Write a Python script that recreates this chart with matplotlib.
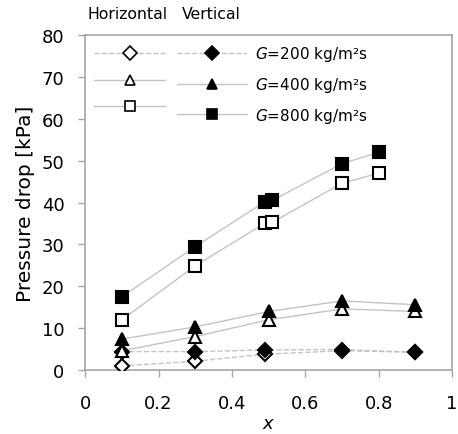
import numpy as np
import matplotlib
matplotlib.use("Agg")
import matplotlib.pyplot as plt
from matplotlib.lines import Line2D

# horizontal tube (open markers)
x_h200 = [0.1, 0.3, 0.49, 0.7, 0.9]
y_h200 = [1.0, 2.1, 3.8, 4.6, 4.3]
x_h400 = [0.1, 0.3, 0.5, 0.7, 0.9]
y_h400 = [4.6, 8.0, 12.0, 14.6, 14.0]
x_h800 = [0.1, 0.3, 0.49, 0.51, 0.7, 0.8]
y_h800 = [12.0, 24.9, 35.1, 35.3, 44.6, 47.0]

# vertical tube (filled markers)
x_v200 = [0.1, 0.3, 0.49, 0.7, 0.9]
y_v200 = [4.4, 4.4, 4.8, 4.9, 4.2]
x_v400 = [0.1, 0.3, 0.5, 0.7, 0.9]
y_v400 = [7.4, 10.3, 14.0, 16.5, 15.6]
x_v800 = [0.1, 0.3, 0.49, 0.51, 0.7, 0.8]
y_v800 = [17.5, 29.5, 40.2, 40.5, 49.3, 52.0]

labels = ["$G$=200 kg/m²s", "$G$=400 kg/m²s", "$G$=800 kg/m²s"]

line_c = "#c4c4c4"
frame_c = "#a6a6a6"

fig = plt.figure(figsize=(4.58, 4.35), dpi=100)
ax = fig.add_axes([0.186, 0.147, 0.801, 0.770])

series = [
    (x_h200, y_h200, "D", "white", "--", 7.5),
    (x_v200, y_v200, "D", "black", "--", 7.5),
    (x_h400, y_h400, "^", "white", "-", 9),
    (x_v400, y_v400, "^", "black", "-", 9),
    (x_h800, y_h800, "s", "white", "-", 9),
    (x_v800, y_v800, "s", "black", "-", 9),
]
for xs, ys, m, fc, ls, ms in series:
    ax.plot(xs, ys, color=line_c, lw=1.0, ls=ls, zorder=1)
    ax.plot(xs, ys, ls="none", marker=m, ms=ms, mfc=fc, mec="black",
            mew=1.5, zorder=3)

ax.set_xlim(0, 1)
ax.set_ylim(0, 80)
ax.set_xticks(np.arange(0, 1.01, 0.2))
ax.set_xticklabels(["0", "0.2", "0.4", "0.6", "0.8", "1"])
ax.set_yticks(np.arange(0, 81, 10))
ax.tick_params(axis="both", labelsize=13, color=frame_c, length=5,
               width=1.0, direction="out")
ax.tick_params(axis="x", pad=12)
ax.tick_params(axis="y", pad=10)
for s in ax.spines.values():
    s.set_color(frame_c)
    s.set_linewidth(1.2)

ax.set_xlabel("$x$", fontsize=13, labelpad=2)
ax.set_ylabel("Pressure drop [kPa]", fontsize=14.5, labelpad=5)

# legend: horizontal column (no labels) then vertical column with labels
handles = []
for m, ls in [("D", "--"), ("^", "-"), ("s", "-")]:
    handles.append(Line2D([], [], color=line_c, ls=ls, lw=1.0, marker=m,
                          ms=7, mfc="white", mec="black", mew=1.2))
for m, ls in [("D", "--"), ("^", "-"), ("s", "-")]:
    handles.append(Line2D([], [], color=line_c, ls=ls, lw=1.0, marker=m,
                          ms=7, mfc="black", mec="black", mew=1.2))
leg = ax.legend(handles, ["", "", ""] + labels, ncol=2, frameon=False,
                loc="upper left", bbox_to_anchor=(-0.008, 1.01),
                fontsize=11, handlelength=4.6, handletextpad=0.5,
                columnspacing=0.3, labelspacing=0.78, borderaxespad=0.4)

fig.text(0.19, 0.966, "Horizontal", fontsize=11.3, va="center")
fig.text(0.397, 0.966, "Vertical", fontsize=11.3, va="center")

fig.savefig("out.png", dpi=100)
